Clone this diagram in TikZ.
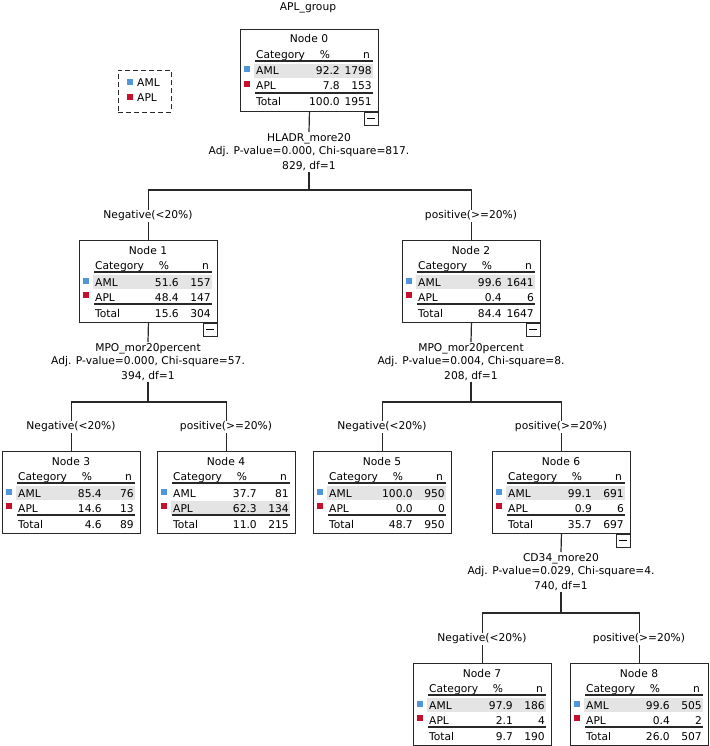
\documentclass[tikz,border=0pt]{standalone}
\usepackage{fontspec}
\setmainfont{DejaVu Sans}
\usetikzlibrary{positioning}

\definecolor{amlblue}{RGB}{80,150,220}
\definecolor{aplred}{RGB}{200,15,45}
\definecolor{rowgray}{RGB}{228,228,228}
\definecolor{linegray}{RGB}{40,40,40}

\begin{document}
\begin{tikzpicture}[x=1pt, y=-1pt, font=\fontsize{10.7}{13}\selectfont,
  catbox/.style={draw=linegray, line width=0.9pt, minimum width=138pt, minimum height=82pt, inner sep=0pt, anchor=north west},
  cell/.style={inner sep=0pt},
  rulesty/.style={draw=linegray, line width=1.4pt},
  minusbox/.style={draw=linegray, line width=0.9pt, anchor=north east, minimum width=14pt, minimum height=13pt, inner sep=0pt},
  split/.style={align=center, inner sep=1pt, anchor=north},
  branch/.style={fill=white, inner sep=1pt},
  edge/.style={draw=linegray, line width=1.2pt}]

\useasboundingbox (0,0) rectangle (709,746);

% Title
\node (title) at (308,8) {APL\_group};

% Legend
\node[draw=linegray, line width=0.9pt, dash pattern=on 5pt off 3pt, minimum width=53pt, minimum height=42pt, anchor=north west] (legend) at (118,70) {};
\fill[amlblue] (127,79) rectangle (133,85);
\fill[aplred] (127,94) rectangle (133,100);
\node[cell, anchor=base west] (legaml) at (137,87) {AML};
\node[cell, anchor=base west] (legapl) at (137,102) {APL};

% Tree nodes: name/x/y/id/AML %/AML n/APL %/APL n/total %/total n/highlight
\foreach \nm/\bx/\by/\nid/\ap/\an/\bp/\bn/\tp/\tn/\hy in {
  n0/240/29/0/92.2/1798/7.8/153/100.0/1951/35,
  n1/79/240/1/51.6/157/48.4/147/15.6/304/35,
  n2/402/240/2/99.6/1641/0.4/6/84.4/1647/35,
  n3/2/451/3/85.4/76/14.6/13/4.6/89/35,
  n4/157/451/4/37.7/81/62.3/134/11.0/215/50,
  n5/313/451/5/100.0/950/0.0/0/48.7/950/35,
  n6/492/451/6/99.1/691/0.9/6/35.7/697/35,
  n7/413/663/7/97.9/186/2.1/4/9.7/190/35,
  n8/570/663/8/99.6/505/0.4/2/26.0/507/35}
{
  \begin{scope}[shift={(\bx,\by)}]
    \fill[rowgray] (14,\hy) rectangle (133,\hy+14);
    \node[catbox] (\nm) at (0,0) {};
    \node[cell, anchor=base] (\nm-t) at (69,14) {Node \nid};
    \node[cell, anchor=base west] (\nm-h1) at (16,29.5) {Category};
    \node[cell, anchor=base] (\nm-h2) at (85,29.5) {\%};
    \node[cell, anchor=base east] (\nm-h3) at (130,29.5) {n};
    \draw[rulesty] (15,32) -- (133,32);
    \fill[amlblue] (4,37.5) rectangle (10,43.5);
    \node[cell, anchor=base west] (\nm-a) at (16,46) {AML};
    \node[cell, anchor=base east] (\nm-ap) at (100,46) {\ap};
    \node[cell, anchor=base east] (\nm-an) at (132,46) {\an};
    \fill[aplred] (4,52) rectangle (10,58);
    \node[cell, anchor=base west] (\nm-b) at (16,61) {APL};
    \node[cell, anchor=base east] (\nm-bp) at (100,61) {\bp};
    \node[cell, anchor=base east] (\nm-bn) at (132,61) {\bn};
    \draw[rulesty] (15,64) -- (133,64);
    \node[cell, anchor=base west] (\nm-c) at (16,77) {Total};
    \node[cell, anchor=base east] (\nm-cp) at (100,77) {\tp};
    \node[cell, anchor=base east] (\nm-cn) at (132,77) {\tn};
  \end{scope}
}

% Collapse boxes
\foreach \nm in {n0,n1,n2,n6}
  \node[minusbox] (\nm-m) at (\nm.south east) {\rule{8pt}{1pt}};

% Split texts
\node[split] (s0) at (309,132) {HLADR\_more20\\Adj. P-value=0.000, Chi-square=817.\\[2pt]829, df=1};
\node[split] (s1) at (148,342) {MPO\_mor20percent\\Adj. P-value=0.000, Chi-square=57.\\[2pt]394, df=1};
\node[split] (s2) at (471,342) {MPO\_mor20percent\\Adj. P-value=0.004, Chi-square=8.\\[2pt]208, df=1};
\node[split] (s6) at (561,552) {CD34\_more20\\Adj. P-value=0.029, Chi-square=4.\\[2pt]740, df=1};

% Bar junctions
\coordinate (b0) at (309,190);
\coordinate (b1) at (148,402);
\coordinate (b2) at (471,402);
\coordinate (b6) at (561,613);

% Edges
\draw[edge] (n0.south) -- (s0.north);
\draw[edge] (s0.south) -- (b0);
\draw[edge] (n1.north) |- (b0) -| (n2.north);
\draw[edge] (n1.south) -- (s1.north);
\draw[edge] (s1.south) -- (b1);
\draw[edge] (n3.north) |- (b1) -| (n4.north);
\draw[edge] (n2.south) -- (s2.north);
\draw[edge] (s2.south) -- (b2);
\draw[edge] (n5.north) |- (b2) -| (n6.north);
\draw[edge] (n6.south) -- (s6.north);
\draw[edge] (s6.south) -- (b6);
\draw[edge] (n7.north) |- (b6) -| (n8.north);

% Branch labels
\node[branch] (l1) at (148,216) {Negative(<20\%)};
\node[branch] (l2) at (471,216) {positive(>=20\%)};
\node[branch] (l3) at (71,427) {Negative(<20\%)};
\node[branch] (l4) at (226,427) {positive(>=20\%)};
\node[branch] (l5) at (382,427) {Negative(<20\%)};
\node[branch] (l6) at (561,427) {positive(>=20\%)};
\node[branch] (l7) at (482,639) {Negative(<20\%)};
\node[branch] (l8) at (639,639) {positive(>=20\%)};

\end{tikzpicture}
\end{document}
